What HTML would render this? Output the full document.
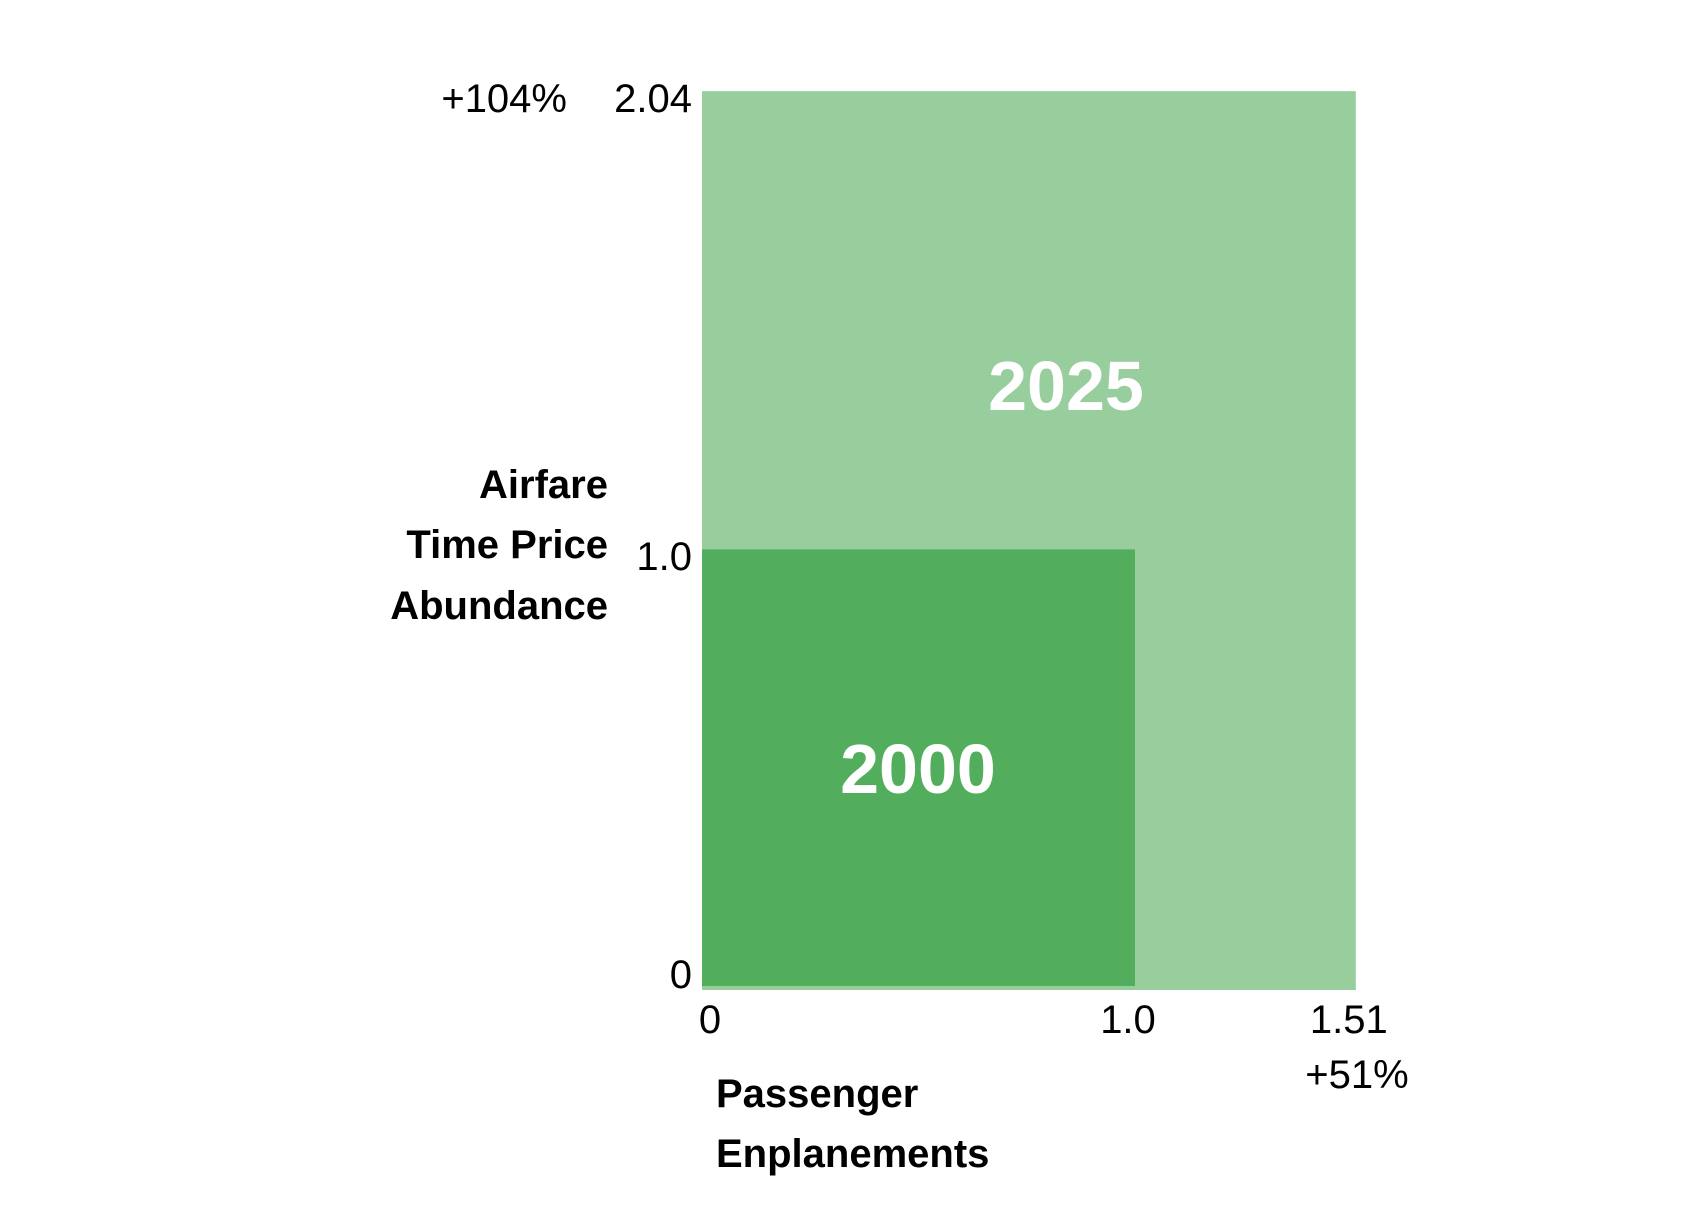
<!DOCTYPE html>
<html><head><meta charset="utf-8"><style>
html,body{margin:0;padding:0;background:#fff;}
svg{display:block;font-family:"Liberation Sans",sans-serif;}
</style></head><body>
<svg width="1688" height="1216" viewBox="0 0 1688 1216">
<g id="marks"></g>
<g id="labels"></g>
</svg>
<script>
const years = ["2025", "2000"];
const enplanements = [1.51, 1.0];
const timePriceAbundance = [2.04, 1.0];
const colors = ["#98ce9d", "#52ae5d"];
const xTickValues = [0, 1.0, 1.51];
const xTickLabels = ["0", "1.0", "1.51"];
const yTickValues = [0, 1.0, 2.04];
const yTickLabels = ["0", "1.0", "2.04"];
const xChangeLabel = "+51%";
const yChangeLabel = "+104%";

const NS = "http://www.w3.org/2000/svg";
function xS(v){ return 702 + v * 433; }
function yS(v){ return 990 - v * 440.6; }
const marks = document.getElementById("marks");
const labels = document.getElementById("labels");
function mk(tag, attrs, parent, text){
  const e = document.createElementNS(NS, tag);
  for (const k in attrs) e.setAttribute(k, attrs[k]);
  if (text !== undefined) e.textContent = text;
  parent.appendChild(e);
  return e;
}
years.forEach((yr, i) => {
  const bottom = i === 0 ? yS(0) : yS(0) - 4;
  const r = mk("rect", {x: xS(0), y: yS(timePriceAbundance[i]), width: xS(enplanements[i]) - xS(0), height: bottom - yS(timePriceAbundance[i]), fill: colors[i]}, marks);
  
  
});
// year labels
const t1 = mk("text", {x: 1066, y: 410, "text-anchor": "middle", "font-size": 70, "font-weight": "bold", fill: "#fff"}, labels, years[0]);


const t2 = mk("text", {x: 918, y: 793, "text-anchor": "middle", "font-size": 70, "font-weight": "bold", fill: "#fff"}, labels, years[1]);


// y ticks
const yTickY = [974, 556, 98];
yTickValues.forEach((v, i) => {
  const t = mk("text", {x: 692, y: yTickY[i] + 14, "text-anchor": "end", "font-size": 40, fill: "#000"}, labels, yTickLabels[i]);
  
  
});
xTickValues.forEach((v, i) => {
  let cx = i === 0 ? 710 : xS(v) - 7;
  const t = mk("text", {x: cx, y: 1033, "text-anchor": "middle", "font-size": 40, fill: "#000"}, labels, xTickLabels[i]);
  
  
});
const yc = mk("text", {x: 567, y: 112, "text-anchor": "end", "font-size": 40, fill: "#000"}, labels, yChangeLabel);


const xc = mk("text", {x: 1357, y: 1088, "text-anchor": "middle", "font-size": 40, fill: "#000"}, labels, xChangeLabel);


// axis titles
const yTitle = ["Airfare", "Time Price", "Abundance"];
const yTitleY = [498, 558, 619];
yTitle.forEach((s, i) => {
  const t = mk("text", {x: 608, y: yTitleY[i], "text-anchor": "end", "font-size": 40, "font-weight": "bold", fill: "#000"}, labels, s);
  
  
});
const xTitle = ["Passenger", "Enplanements"];
const xTitleY = [1107, 1167];
xTitle.forEach((s, i) => {
  const t = mk("text", {x: 716, y: xTitleY[i], "font-size": 40, "font-weight": "bold", fill: "#000"}, labels, s);
  
  
});
</script>
</body></html>
